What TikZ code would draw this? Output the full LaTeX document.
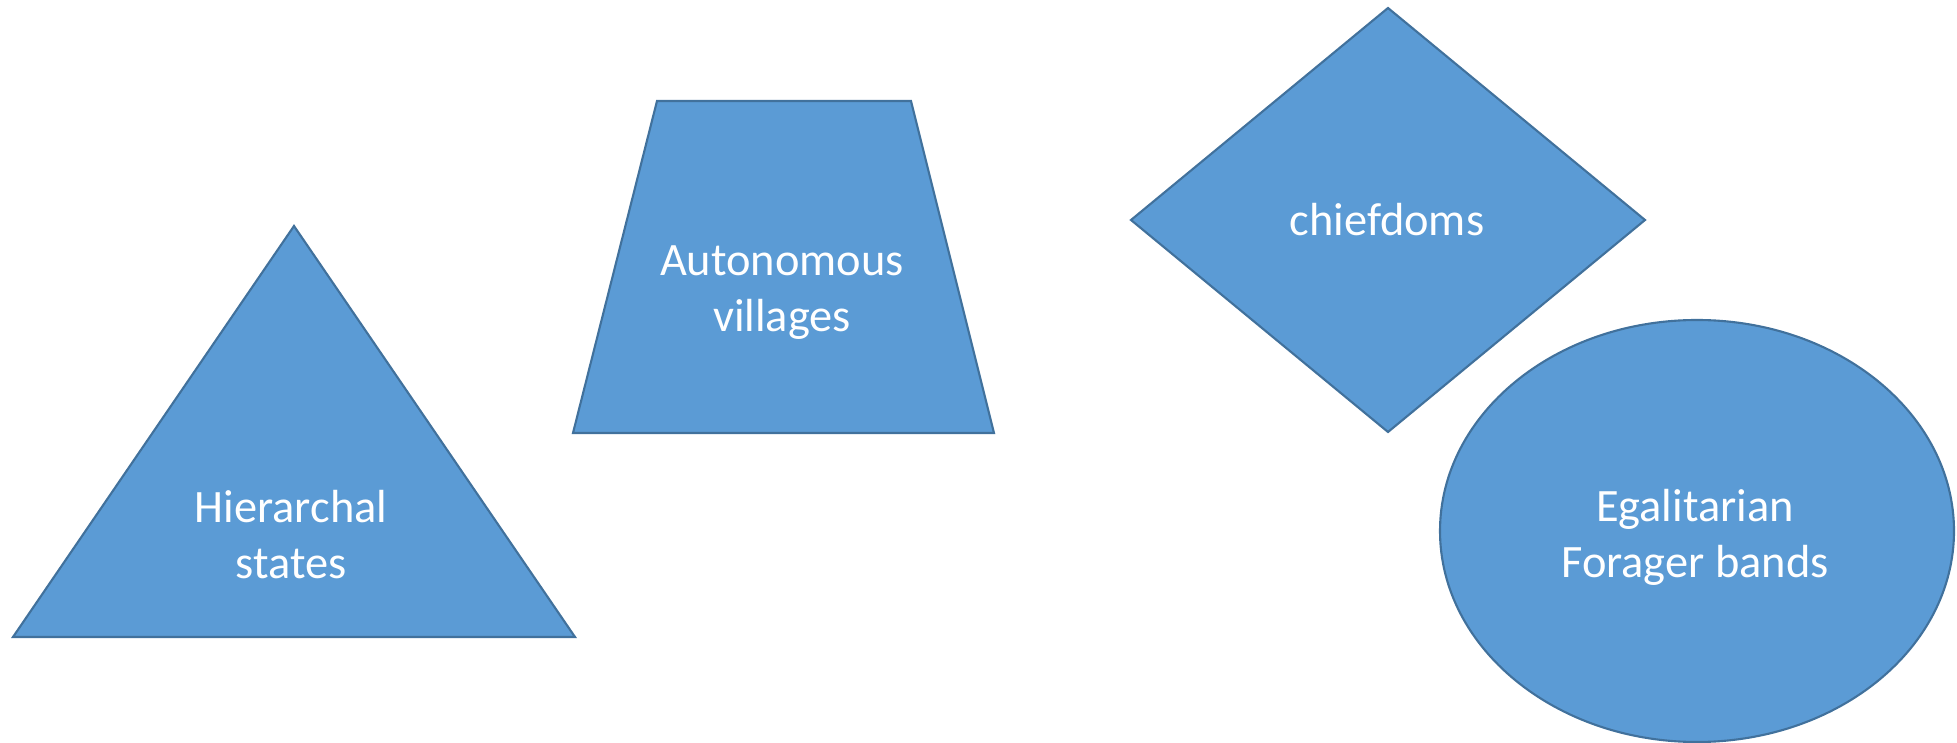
\documentclass[tikz,border=0pt]{standalone}
\usepackage{fontspec}
\setmainfont{Carlito}
\definecolor{formfill}{HTML}{5B9BD5}
\definecolor{formline}{HTML}{41719C}
\begin{document}
\begin{tikzpicture}[x=0.01cm,y=-0.01cm,
    formbox/.style={fill=formfill,draw=formline,line width=0.6pt},
    formtext/.style={text=white,align=center,inner sep=0pt,
        font=\fontsize{13.2}{15.9}\selectfont}]
    \useasboundingbox (0,0) rectangle (1957,743);
    \draw[formbox] (294,226) -- (575,637) -- (13,637) -- cycle;
    \draw[formbox] (657,101) -- (911,101) -- (994,433) -- (573,433) -- cycle;
    \draw[formbox] (1388,8) -- (1645,220) -- (1388,432) -- (1131,220) -- cycle;
    \draw[formbox] (1697,531) ellipse [x radius=257, y radius=211];
    \node[formtext] (states) at (291,535) {Hierarchal\\states};
    \node[formtext] (villages) at (782,293) {Autonomous\\villages};
    \node[formtext,anchor=base] (chiefdoms) at (1387,236) {chiefdoms};
    \node[formtext] (bands) at (1695,537) {Egalitarian\\Forager bands};
\end{tikzpicture}
\end{document}
